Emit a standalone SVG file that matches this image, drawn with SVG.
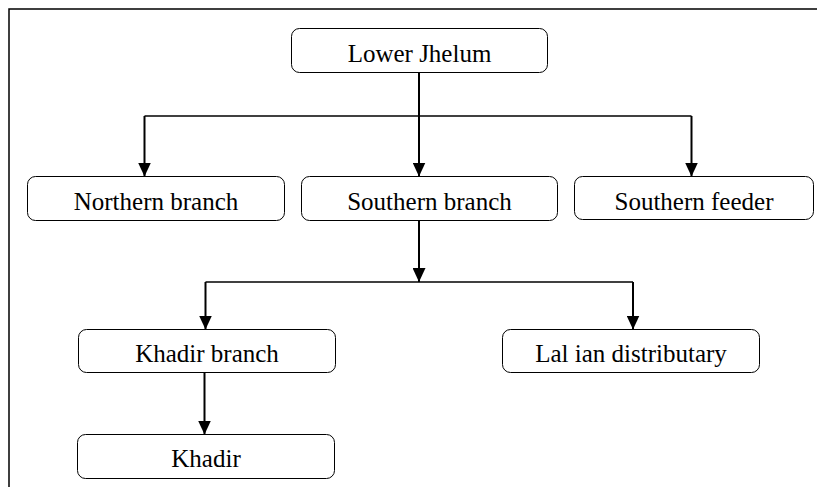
<svg xmlns="http://www.w3.org/2000/svg" width="817" height="487" viewBox="0 0 817 487">
<defs>
<marker id="arr" markerUnits="userSpaceOnUse" markerWidth="14" markerHeight="13" refX="14" refY="6.5" orient="auto">
<path d="M0,0 L14,6.5 L0,13 z" fill="#000"/>
</marker>
<style>
.box{fill:#fff;stroke:#000;stroke-width:1}
.t{font-family:"Liberation Serif","Times New Roman",serif;font-size:25px;fill:#000;text-anchor:middle}
.v{stroke:#000;stroke-width:2;fill:none}
.h{stroke:#000;stroke-width:1.5;fill:none}
</style>
</defs>
<rect x="0" y="0" width="817" height="487" fill="#fff"/>
<rect x="9" y="9" width="830" height="500" fill="none" stroke="#000" stroke-width="1.5"/>
<g id="connectors">
<line class="v" x1="419" y1="72.5" x2="419" y2="116"/>
<line class="h" x1="144.5" y1="116" x2="691.5" y2="116"/>
<line class="v" x1="144.5" y1="116" x2="144.5" y2="176.5" marker-end="url(#arr)"/>
<line class="v" x1="419" y1="116" x2="419" y2="176.5" marker-end="url(#arr)"/>
<line class="v" x1="691.5" y1="116" x2="691.5" y2="176.5" marker-end="url(#arr)"/>
<line class="v" x1="419" y1="220.5" x2="419" y2="282" marker-end="url(#arr)"/>
<line class="h" x1="205.5" y1="282" x2="633" y2="282"/>
<line class="v" x1="205.5" y1="282" x2="205.5" y2="329.5" marker-end="url(#arr)"/>
<line class="v" x1="633" y1="282" x2="633" y2="329.5" marker-end="url(#arr)"/>
<line class="v" x1="204.5" y1="372.5" x2="204.5" y2="434.5" marker-end="url(#arr)"/>
</g>
<g id="lower-jhelum"><rect class="box" x="291.5" y="28.5" width="256" height="44" rx="8"/><text class="t" x="419.5" y="62">Lower Jhelum</text></g>
<g id="northern-branch"><rect class="box" x="27.5" y="176.5" width="257" height="44" rx="8"/><text class="t" x="156" y="210">Northern branch</text></g>
<g id="southern-branch"><rect class="box" x="301.5" y="176.5" width="256" height="44" rx="8"/><text class="t" x="429.5" y="210">Southern branch</text></g>
<g id="southern-feeder"><rect class="box" x="574.5" y="176.5" width="239" height="43" rx="8"/><text class="t" x="694" y="210">Southern feeder</text></g>
<g id="khadir-branch"><rect class="box" x="78.5" y="329.5" width="257" height="43" rx="8"/><text class="t" x="207" y="362">Khadir branch</text></g>
<g id="lalian-distributary"><rect class="box" x="502.5" y="329.5" width="257" height="43" rx="8"/><text class="t" x="631" y="362">Lal ian distributary</text></g>
<g id="khadir"><rect class="box" x="77.5" y="434.5" width="257" height="44" rx="8"/><text class="t" x="206" y="467">Khadir</text></g>
</svg>
